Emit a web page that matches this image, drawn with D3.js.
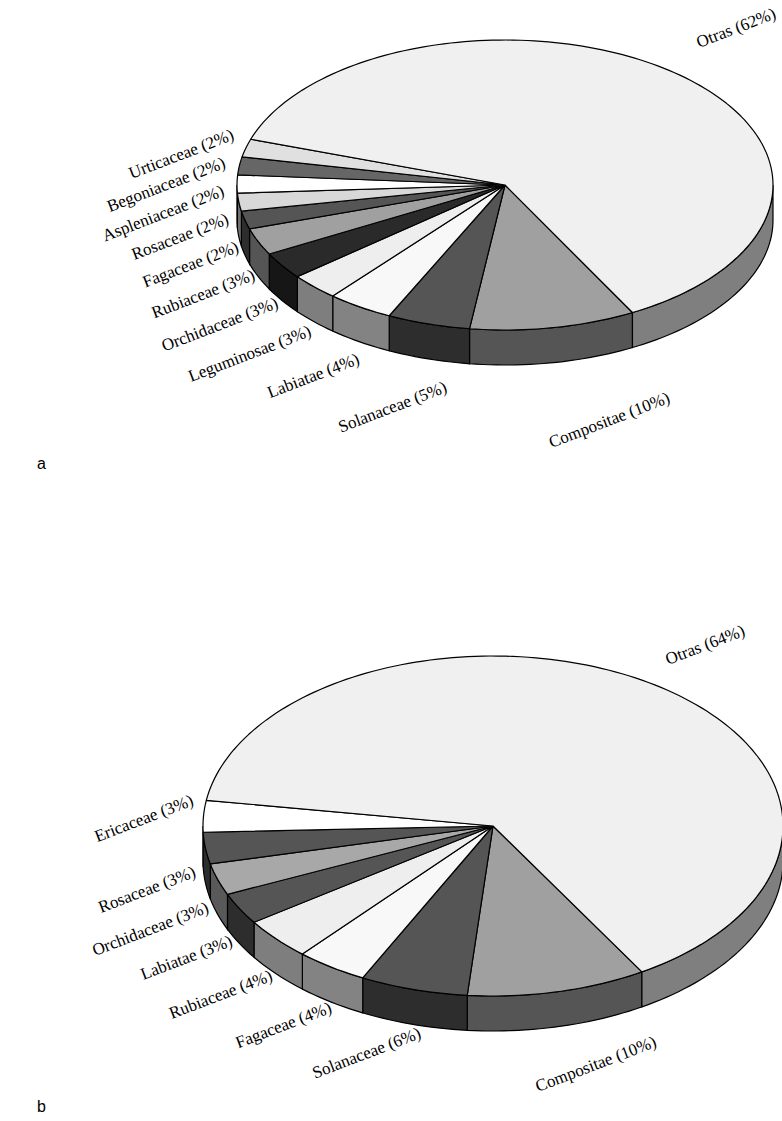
<!DOCTYPE html>
<html><head><meta charset="utf-8">
<script src="https://cdn.jsdelivr.net/npm/d3@7"></script>
<style>body{margin:0;background:#fff}</style></head>
<body><svg id="c" width="782" height="1121"></svg>
<script>
const namesA=["Compositae  (10%)","Solanaceae (5%)","Labiatae (4%)","Leguminosae (3%)","Orchidaceae (3%)","Rubiaceae (3%)","Fagaceae (2%)","Rosaceae (2%)","Aspleniaceae (2%)","Begoniaceae (2%)","Urticaceae (2%)","Otras (62%)"];
const valuesA=[10,5,4,3,3,3,2,2,2,2,2,62];
const colorsA=["#a0a0a0","#555555","#f8f8f8","#eeeeee","#2a2a2a","#a0a0a0","#555555","#d8d8d8","#ffffff","#666666","#e0e0e0","#f0f0f0"];
const namesB=["Compositae (10%)","Solanaceae (6%)","Fagaceae (4%)","Rubiaceae (4%)","Labiatae (3%)","Orchidaceae (3%)","Rosaceae (3%)","Ericaceae (3%)","Otras (64%)"];
const valuesB=[10,6,4,4,3,3,3,3,64];
const colorsB=["#a0a0a0","#555555","#f8f8f8","#eeeeee","#555555","#a8a8a8","#555555","#ffffff","#f0f0f0"];

const svg=d3.select("#c");
function pie3d(names,values,colors,o){
  const total=d3.sum(values);
  const ang=d3.scaleLinear().domain([0,total]).range([o.start,o.start+360]);
  const rad=d=>d*Math.PI/180;
  const pt=(t,dy=0)=>[o.cx+o.rx*Math.cos(rad(t)),o.cy+o.ry*Math.sin(rad(t))+dy];
  const arcPts=(a0,a1,dy=0)=>{const n=Math.max(2,Math.ceil(Math.abs(a1-a0)/1.5));return d3.range(n+1).map(i=>pt(a0+(a1-a0)*i/n,dy));};
  let cum=0;
  const sl=values.map((v,i)=>{const s={a0:ang(cum),a1:ang(cum+v),i};cum+=v;return s;});
  const g=svg.append("g");
  const line=d3.line();
  sl.forEach(s=>{
    [0,360].forEach(off=>{
      const a0=Math.max(s.a0,off),a1=Math.min(s.a1,off+180);
      if(a1>a0){
        const p=arcPts(a0,a1).concat(arcPts(a1,a0,o.depth));
        const c=d3.color(colors[s.i]);const k=0.53;
        g.append("path").attr("d",line(p)+"Z")
          .attr("fill",d3.rgb(c.r*k,c.g*k,c.b*k)).attr("stroke","#000").attr("stroke-width",1.2);
      }
    });
  });
  sl.forEach(s=>{
    const p=[[o.cx,o.cy]].concat(arcPts(s.a0,s.a1));
    g.append("path").attr("d",line(p)+"Z").attr("fill",colors[s.i]).attr("stroke","#000").attr("stroke-width",1.2).attr("stroke-linejoin","round");
  });
  const labs=sl.map(s=>{
    const m=(s.a0+s.a1)/2, c=Math.cos(rad(m)), sn=Math.sin(rad(m));
    const x=o.cx+(o.rx+o.lo)*c, y=o.cy+(o.ry+o.lo)*sn+(sn>0?o.depth:0);
    return {i:s.i,m,x,y,c,sn,anchor:c>0.15?"start":"end"};
  });
  if(o.spread){
    const left=labs.filter(l=>l.anchor==="end").sort((a,b)=>a.y-b.y);
    const y0=left[0].y,y1=left[left.length-1].y,n=left.length;
    left.forEach((l,k)=>{
      const y=y0+k*(y1-y0)/(n-1);
      const ryO=o.ry+o.lo+(y>o.cy?o.depth:0);
      const s=Math.max(-1,Math.min(1,(y-o.cy)/ryO));
      l.y=y; l.x=o.cx-(o.rx+o.lo)*Math.sqrt(1-s*s);
    });
  }
  labs.forEach(l=>{
    if(l.anchor==="end"){l.x+=o.dxL;l.y+=o.dyL;}
    else if(l.sn>0){l.x+=o.dxR;l.y+=o.dyR;}
    g.append("text").attr("x",l.x).attr("y",l.y).attr("text-anchor",l.anchor)
      .attr("transform",`rotate(-21,${l.x},${l.y})`)
      .attr("font-family","Liberation Serif, serif").attr("font-size",17).text(names[l.i]);
  });
}
pie3d(namesA,valuesA,colorsA,{cx:505,cy:185,rx:268,ry:145,depth:35,start:61.6,lo:34,spread:true,dxL:22,dyL:0,dxR:-8,dyR:52});
pie3d(namesB,valuesB,colorsB,{cx:493,cy:826,rx:290,ry:170,depth:35,start:59.1,lo:24,spread:false,dxL:15,dyL:-10,dxR:-25,dyR:42});
svg.append("text").attr("x",37).attr("y",469).attr("font-family","Liberation Sans, Arial").attr("font-size",16).text("a");
svg.append("text").attr("x",37).attr("y",1112).attr("font-family","Liberation Sans, Arial").attr("font-size",16).text("b");
</script></body></html>
